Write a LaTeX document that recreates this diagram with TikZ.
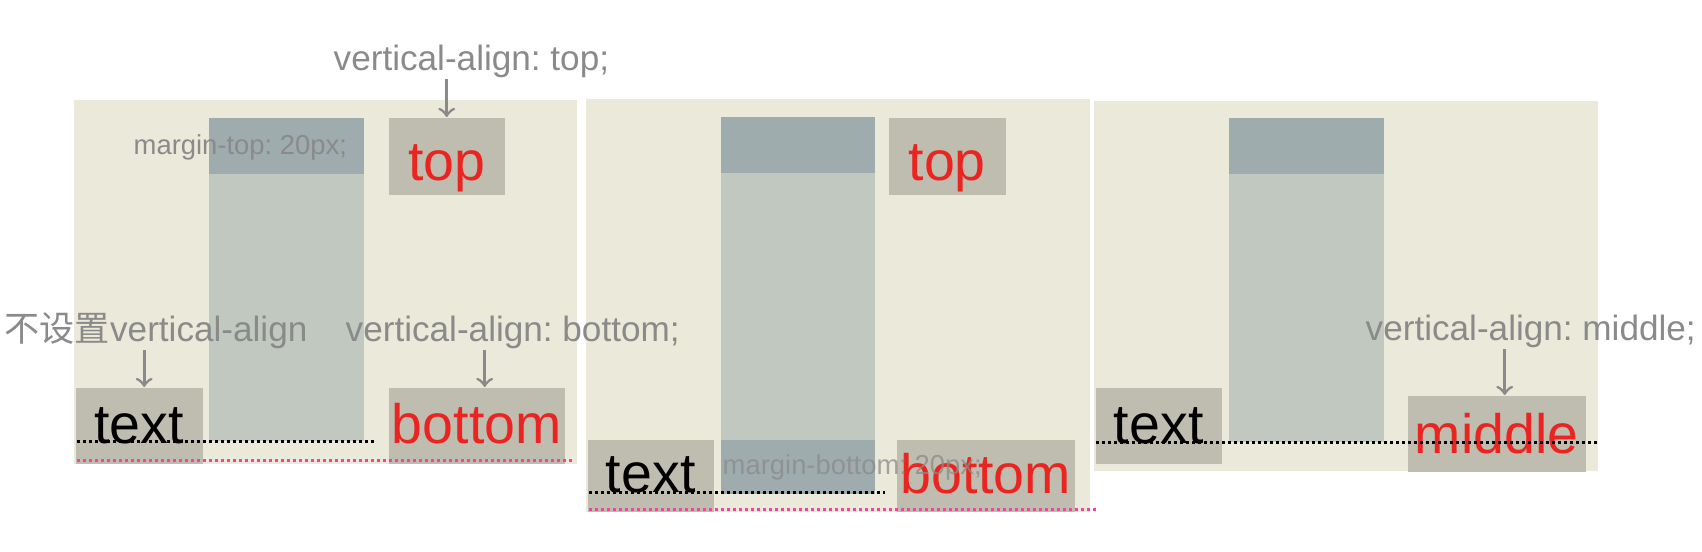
\documentclass[tikz,border=0pt]{standalone}
\usepackage{fontspec}
\setmainfont{Liberation Sans}
\newfontfamily\cjk{Noto Sans CJK SC}
\usepackage{tikz}
\frenchspacing

\definecolor{paper}{RGB}{235,233,217}
\definecolor{col}{RGB}{192,200,192}
\definecolor{coldark}{RGB}{159,172,174}
\definecolor{boxc}{RGB}{191,188,176}
\definecolor{redtxt}{RGB}{234,36,32}
\definecolor{notec}{RGB}{138,138,138}
\definecolor{pinkc}{RGB}{255,60,160}

\begin{document}
\begin{tikzpicture}[x=0.1mm,y=-0.1mm,
  box/.style={fill=boxc,inner sep=0pt,anchor=north west,text height=5.6mm,text depth=2mm,
    font=\fontsize{15.8pt}{18pt}\selectfont},
  note/.style={text=notec,inner sep=0pt,anchor=base west,font=\fontsize{10pt}{12pt}\selectfont},
  small/.style={text=notec,inner sep=0pt,anchor=base west,font=\fontsize{7.8pt}{9pt}\selectfont},
  pointer/.style={->,draw=notec,line width=0.8pt},
  dotline/.style={line width=0.3mm,dash pattern=on 0.3mm off 0.3mm}]
\useasboundingbox (0,0) rectangle (1702,552);
\fill[paper] (74,100) rectangle (577,464);
\fill[paper] (586,99) rectangle (1090,512);
\fill[paper] (1094,101) rectangle (1598,471);
\fill[col] (209,118) rectangle (364,441);
\fill[coldark] (209,118) rectangle (364,174);
\fill[col] (721,117) rectangle (875,494);
\fill[coldark] (721,117) rectangle (875,173);
\fill[coldark] (721,440) rectangle (875,494);
\fill[col] (1229,118) rectangle (1384,442);
\fill[coldark] (1229,118) rectangle (1384,174);

\node[box,minimum width=12.7mm] (textA) at (75,387) {text};
\node[box,minimum width=11.6mm,text=redtxt,text height=6.3mm,text depth=1.4mm] (topA) at (388,117) {top};
\node[box,minimum width=17.6mm,text=redtxt] (botA) at (388,387) {bottom};
\node[box,minimum width=12.6mm,text height=5.3mm,text depth=1.9mm] (textB) at (587,439) {text};
\node[box,minimum width=11.7mm,text=redtxt,text height=6.3mm,text depth=1.4mm] (topB) at (888,117) {top};
\node[box,minimum width=17.8mm,text=redtxt,text height=5.4mm,text depth=1.8mm] (botB) at (896,439) {bottom};
\node[box,minimum width=12.6mm] (textC) at (1095,387) {text};
\node[box,minimum width=17.8mm,text=redtxt,text height=5.8mm,text depth=1.8mm] (midC) at (1407,395) {middle};

\draw[dotline] (77,442) -- (376,442);
\draw[dotline,pinkc] (77,461) -- (572,461);
\draw[dotline] (589,493) -- (885,493);
\draw[dotline,pinkc] (589,510) -- (1096,510);
\draw[dotline] (1096,443) -- (1598,443);

\node[note] (lblTop) at (333,71) {vertical-align: top;};
\node[note] (lblNone) at (4,342) {{\cjk 不设置}vertical-align};
\node[note] (lblBot) at (345,342) {vertical-align: bottom;};
\node[note] (lblMid) at (1365,341) {vertical-align: middle;};
\node[small] (mTop) at (133,155) {margin-top: 20px;};
\node[small,text opacity=0.75] (mBot) at (722,475) {margin-bottom: 20px;};

\coordinate (tA) at ([xshift=0.5mm]textA.north);
\coordinate (tB) at ([xshift=0.8mm]botA.north);
\coordinate (tC) at ([xshift=0.8mm]midC.north);
\draw[pointer] (lblTop.south -| topA.north) -- (topA.north);
\draw[pointer] (lblNone.south -| tA) -- (tA);
\draw[pointer] (lblBot.south -| tB) -- (tB);
\draw[pointer] (lblMid.south -| tC) -- (tC);
\end{tikzpicture}
\end{document}
